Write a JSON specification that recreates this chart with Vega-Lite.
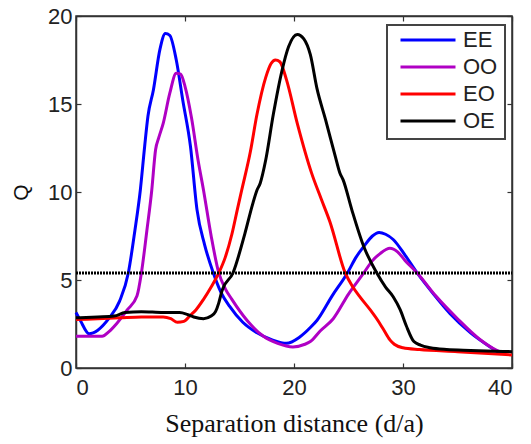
{
  "$schema": "https://vega.github.io/schema/vega-lite/v6.json",
  "width": 436,
  "height": 352,
  "autosize": {"type": "none"},
  "padding": {"left": 76, "top": 16, "right": 19, "bottom": 76},
  "background": "white",
  "config": {
    "view": {"stroke": "#333", "strokeWidth": 1.5},
    "axis": {
      "domainColor": "#333",
      "domainWidth": 1.5,
      "tickColor": "#333",
      "tickWidth": 1.2,
      "tickSize": -5,
      "grid": false,
      "labelFont": "Liberation Sans",
      "labelFontSize": 22,
      "labelColor": "#222",
      "titleColor": "#111",
      "titleFontWeight": "normal"
    },
    "legend": {
      "orient": "none",
      "legendX": 311,
      "legendY": 9,
      "symbolType": "stroke",
      "symbolSize": 3025,
      "symbolStrokeWidth": 3,
      "clipHeight": 16,
      "rowPadding": 5,
      "padding": 7,
      "symbolOffset": 5,
      "labelOffset": 6,
      "labelFont": "Liberation Sans",
      "labelFontSize": 22,
      "labelColor": "#222",
      "strokeColor": "#444",
      "strokeWidth": 2,
      "fillColor": "white",
      "cornerRadius": 0
    }
  },
  "layer": [
    {
      "data": {
        "values": [
          {"s": "EE", "d": 0, "Q": 3.15}, {"s": "EE", "d": 0.4, "Q": 2.7}, {"s": "EE", "d": 1.2, "Q": 1.95},
          {"s": "EE", "d": 2, "Q": 2.15}, {"s": "EE", "d": 3, "Q": 2.8}, {"s": "EE", "d": 4, "Q": 3.8},
          {"s": "EE", "d": 4.8, "Q": 5.4}, {"s": "EE", "d": 5.4, "Q": 7.8}, {"s": "EE", "d": 5.9, "Q": 10.1},
          {"s": "EE", "d": 6.3, "Q": 12.6}, {"s": "EE", "d": 6.6, "Q": 14.3}, {"s": "EE", "d": 7.1, "Q": 15.8},
          {"s": "EE", "d": 7.7, "Q": 18.1}, {"s": "EE", "d": 8.2, "Q": 19.0}, {"s": "EE", "d": 8.6, "Q": 18.9},
          {"s": "EE", "d": 9.2, "Q": 17.5}, {"s": "EE", "d": 9.8, "Q": 15.2}, {"s": "EE", "d": 10.5, "Q": 12.6},
          {"s": "EE", "d": 11.1, "Q": 9.0}, {"s": "EE", "d": 11.8, "Q": 7.0}, {"s": "EE", "d": 12.6, "Q": 5.4},
          {"s": "EE", "d": 13.3, "Q": 4.3}, {"s": "EE", "d": 14.1, "Q": 3.5}, {"s": "EE", "d": 15.3, "Q": 2.6},
          {"s": "EE", "d": 16.6, "Q": 2.0}, {"s": "EE", "d": 18.0, "Q": 1.6}, {"s": "EE", "d": 19.3, "Q": 1.4},
          {"s": "EE", "d": 20.5, "Q": 1.75}, {"s": "EE", "d": 21.5, "Q": 2.3}, {"s": "EE", "d": 22.1, "Q": 2.7},
          {"s": "EE", "d": 23.5, "Q": 4.1}, {"s": "EE", "d": 24.9, "Q": 5.4}, {"s": "EE", "d": 25.7, "Q": 6.3},
          {"s": "EE", "d": 26.4, "Q": 6.9}, {"s": "EE", "d": 27.2, "Q": 7.5}, {"s": "EE", "d": 27.8, "Q": 7.7},
          {"s": "EE", "d": 28.4, "Q": 7.6}, {"s": "EE", "d": 29.1, "Q": 7.3}, {"s": "EE", "d": 30.2, "Q": 6.4},
          {"s": "EE", "d": 31.3, "Q": 5.4}, {"s": "EE", "d": 32.8, "Q": 4.2}, {"s": "EE", "d": 34.3, "Q": 3.1},
          {"s": "EE", "d": 36.2, "Q": 2.0}, {"s": "EE", "d": 38.0, "Q": 1.2}, {"s": "EE", "d": 39.0, "Q": 0.8},

          {"s": "OO", "d": 0, "Q": 1.8}, {"s": "OO", "d": 2.4, "Q": 1.8}, {"s": "OO", "d": 3.0, "Q": 2.05},
          {"s": "OO", "d": 3.7, "Q": 2.5}, {"s": "OO", "d": 4.7, "Q": 3.3}, {"s": "OO", "d": 5.6, "Q": 4.1},
          {"s": "OO", "d": 6.0, "Q": 5.4}, {"s": "OO", "d": 6.5, "Q": 7.8}, {"s": "OO", "d": 6.95, "Q": 10.1},
          {"s": "OO", "d": 7.3, "Q": 12.4}, {"s": "OO", "d": 7.6, "Q": 13.1}, {"s": "OO", "d": 8.0, "Q": 13.9},
          {"s": "OO", "d": 8.6, "Q": 15.6}, {"s": "OO", "d": 9.2, "Q": 16.75}, {"s": "OO", "d": 9.6, "Q": 16.7},
          {"s": "OO", "d": 10.0, "Q": 16.0}, {"s": "OO", "d": 10.6, "Q": 14.2}, {"s": "OO", "d": 11.2, "Q": 11.8},
          {"s": "OO", "d": 11.7, "Q": 10.1}, {"s": "OO", "d": 12.4, "Q": 7.5}, {"s": "OO", "d": 13.1, "Q": 5.4},
          {"s": "OO", "d": 13.7, "Q": 4.5}, {"s": "OO", "d": 14.3, "Q": 3.9}, {"s": "OO", "d": 15.7, "Q": 2.7},
          {"s": "OO", "d": 17.2, "Q": 1.8}, {"s": "OO", "d": 18.5, "Q": 1.4}, {"s": "OO", "d": 19.9, "Q": 1.2},
          {"s": "OO", "d": 21.0, "Q": 1.35}, {"s": "OO", "d": 21.5, "Q": 1.5}, {"s": "OO", "d": 22.4, "Q": 2.1},
          {"s": "OO", "d": 23.6, "Q": 2.8}, {"s": "OO", "d": 25.0, "Q": 4.2}, {"s": "OO", "d": 26.4, "Q": 5.4},
          {"s": "OO", "d": 27.2, "Q": 6.1}, {"s": "OO", "d": 27.9, "Q": 6.5}, {"s": "OO", "d": 28.8, "Q": 6.8},
          {"s": "OO", "d": 29.5, "Q": 6.6}, {"s": "OO", "d": 30.2, "Q": 6.1}, {"s": "OO", "d": 31.3, "Q": 5.4},
          {"s": "OO", "d": 33.0, "Q": 4.1}, {"s": "OO", "d": 35.0, "Q": 2.8}, {"s": "OO", "d": 37.0, "Q": 1.65},
          {"s": "OO", "d": 38.6, "Q": 1.0}, {"s": "OO", "d": 39.4, "Q": 0.8},

          {"s": "EO", "d": 0, "Q": 2.75}, {"s": "EO", "d": 2, "Q": 2.8}, {"s": "EO", "d": 4, "Q": 2.85},
          {"s": "EO", "d": 6, "Q": 2.9}, {"s": "EO", "d": 8, "Q": 2.9}, {"s": "EO", "d": 8.7, "Q": 2.8},
          {"s": "EO", "d": 9.3, "Q": 2.6}, {"s": "EO", "d": 9.9, "Q": 2.65}, {"s": "EO", "d": 10.5, "Q": 3.0},
          {"s": "EO", "d": 11.0, "Q": 3.3}, {"s": "EO", "d": 11.7, "Q": 3.9}, {"s": "EO", "d": 12.4, "Q": 4.6},
          {"s": "EO", "d": 13.1, "Q": 5.4}, {"s": "EO", "d": 13.7, "Q": 6.3}, {"s": "EO", "d": 14.3, "Q": 7.6},
          {"s": "EO", "d": 14.8, "Q": 9.0}, {"s": "EO", "d": 15.2, "Q": 10.1}, {"s": "EO", "d": 16.0, "Q": 12.3},
          {"s": "EO", "d": 16.6, "Q": 14.4}, {"s": "EO", "d": 17.4, "Q": 16.5}, {"s": "EO", "d": 17.9, "Q": 17.3},
          {"s": "EO", "d": 18.3, "Q": 17.5}, {"s": "EO", "d": 18.7, "Q": 17.4}, {"s": "EO", "d": 19.3, "Q": 16.4},
          {"s": "EO", "d": 20.3, "Q": 13.9}, {"s": "EO", "d": 21.6, "Q": 11.1}, {"s": "EO", "d": 22.5, "Q": 9.6},
          {"s": "EO", "d": 23.3, "Q": 8.3}, {"s": "EO", "d": 24.7, "Q": 5.4}, {"s": "EO", "d": 25.4, "Q": 4.6},
          {"s": "EO", "d": 26.1, "Q": 4.0}, {"s": "EO", "d": 27.0, "Q": 3.3}, {"s": "EO", "d": 27.8, "Q": 2.6},
          {"s": "EO", "d": 28.2, "Q": 2.2}, {"s": "EO", "d": 28.8, "Q": 1.6}, {"s": "EO", "d": 29.2, "Q": 1.35},
          {"s": "EO", "d": 30.0, "Q": 1.15}, {"s": "EO", "d": 31.5, "Q": 1.05}, {"s": "EO", "d": 35.0, "Q": 0.93},
          {"s": "EO", "d": 40.0, "Q": 0.74},

          {"s": "OE", "d": 0, "Q": 2.85}, {"s": "OE", "d": 2, "Q": 2.9}, {"s": "OE", "d": 3.5, "Q": 2.95},
          {"s": "OE", "d": 4.5, "Q": 3.15}, {"s": "OE", "d": 6, "Q": 3.2}, {"s": "OE", "d": 8, "Q": 3.15},
          {"s": "OE", "d": 9.5, "Q": 3.15}, {"s": "OE", "d": 10.2, "Q": 3.05}, {"s": "OE", "d": 10.8, "Q": 2.9},
          {"s": "OE", "d": 11.7, "Q": 2.8}, {"s": "OE", "d": 12.4, "Q": 2.95}, {"s": "OE", "d": 12.8, "Q": 3.2},
          {"s": "OE", "d": 13.1, "Q": 3.7}, {"s": "OE", "d": 13.4, "Q": 4.4}, {"s": "OE", "d": 14.4, "Q": 5.4},
          {"s": "OE", "d": 15.5, "Q": 7.65}, {"s": "OE", "d": 16.2, "Q": 9.3}, {"s": "OE", "d": 16.6, "Q": 10.1},
          {"s": "OE", "d": 16.9, "Q": 10.5}, {"s": "OE", "d": 17.4, "Q": 11.8}, {"s": "OE", "d": 18.1, "Q": 14.4},
          {"s": "OE", "d": 18.9, "Q": 16.9}, {"s": "OE", "d": 19.5, "Q": 18.25}, {"s": "OE", "d": 20.3, "Q": 18.95},
          {"s": "OE", "d": 20.9, "Q": 18.7}, {"s": "OE", "d": 21.5, "Q": 17.8}, {"s": "OE", "d": 22.1, "Q": 15.9},
          {"s": "OE", "d": 22.9, "Q": 14.1}, {"s": "OE", "d": 23.8, "Q": 12.0}, {"s": "OE", "d": 24.2, "Q": 11.1},
          {"s": "OE", "d": 24.5, "Q": 10.7}, {"s": "OE", "d": 25.3, "Q": 9.0}, {"s": "OE", "d": 26.4, "Q": 6.9},
          {"s": "OE", "d": 27.6, "Q": 5.4}, {"s": "OE", "d": 28.4, "Q": 4.6}, {"s": "OE", "d": 29.1, "Q": 4.05},
          {"s": "OE", "d": 29.75, "Q": 3.3}, {"s": "OE", "d": 30.3, "Q": 2.4}, {"s": "OE", "d": 31.0, "Q": 1.5},
          {"s": "OE", "d": 31.6, "Q": 1.3}, {"s": "OE", "d": 32.5, "Q": 1.15}, {"s": "OE", "d": 34.0, "Q": 1.05},
          {"s": "OE", "d": 36.2, "Q": 1.0}, {"s": "OE", "d": 40.0, "Q": 0.93}
        ]
      },
      "mark": {"type": "line", "strokeWidth": 3, "interpolate": "monotone"},
      "encoding": {
        "x": {
          "field": "d",
          "type": "quantitative",
          "scale": {"domain": [0, 40], "nice": false},
          "axis": {
            "values": [0, 10, 20, 30, 40],
            "labelPadding": 14,
            "title": "Separation distance (d/a)",
            "titleFont": "Liberation Serif",
            "titleFontSize": 26,
            "titlePadding": 12
          }
        },
        "y": {
          "field": "Q",
          "type": "quantitative",
          "scale": {"domain": [0, 20], "nice": false},
          "axis": {
            "values": [0, 5, 10, 15, 20],
            "labelPadding": 9,
            "title": "Q",
            "titleFont": "Liberation Sans",
            "titleFontSize": 21,
            "titlePadding": 16
          }
        },
        "color": {
          "field": "s",
          "type": "nominal",
          "scale": {"domain": ["EE", "OO", "EO", "OE"], "range": ["#0000ff", "#b000c4", "#ff0000", "#000000"]},
          "sort": ["EE", "OO", "EO", "OE"],
          "legend": {"title": null}
        }
      }
    },
    {
      "data": {"values": [{"x0": 0, "x1": 40, "Q": 5.4}]},
      "mark": {"type": "rule", "color": "#000", "strokeWidth": 3, "strokeDash": [2, 1]},
      "encoding": {
        "x": {"field": "x0", "type": "quantitative", "axis": {"orient": "top", "values": [0, 10, 20, 30, 40], "labels": false, "title": null}},
        "x2": {"field": "x1"},
        "y": {"field": "Q", "type": "quantitative", "axis": {"orient": "right", "values": [0, 5, 10, 15, 20], "labels": false, "title": null}}
      }
    }
  ],
  "resolve": {"axis": {"x": "independent", "y": "independent"}}
}
